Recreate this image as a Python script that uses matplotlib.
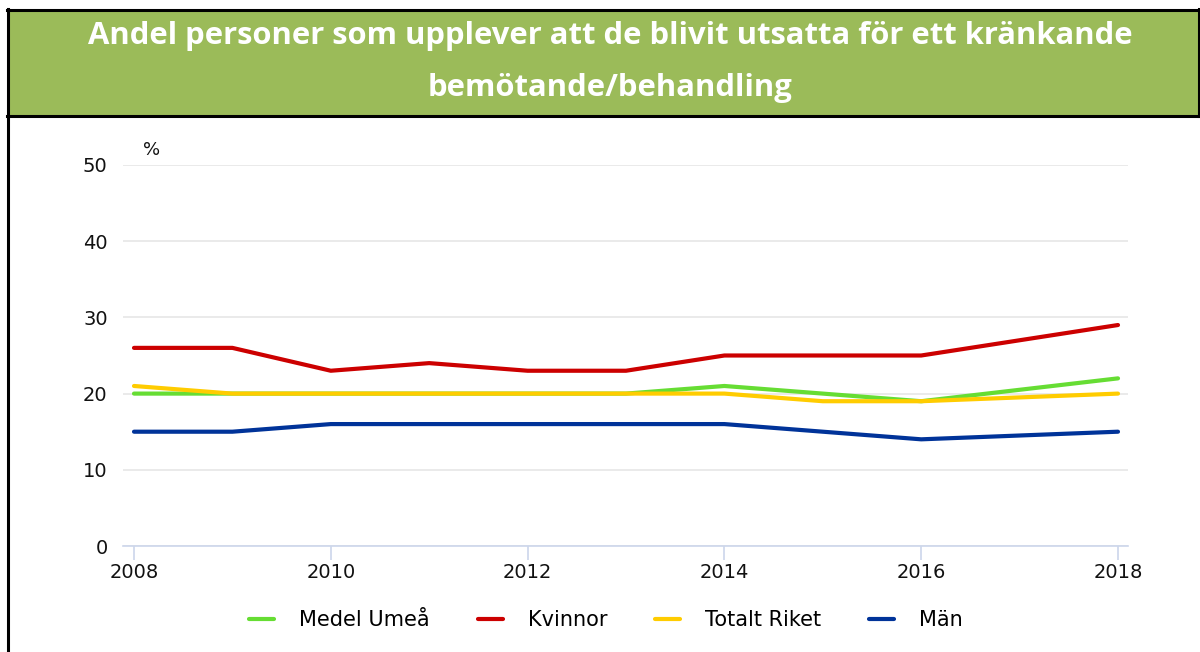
import matplotlib.pyplot as plt
from matplotlib.patches import Rectangle
from matplotlib.lines import Line2D

# data (2017 saknas, linjen går rakt från 2016 till 2018)
years = [2008, 2009, 2010, 2011, 2012, 2013, 2014, 2015, 2016, 2018]
medel_umea = [20, 20, 20, 20, 20, 20, 21, 20, 19, 22]
kvinnor = [26, 26, 23, 24, 23, 23, 25, 25, 25, 29]
totalt_riket = [21, 20, 20, 20, 20, 20, 20, 19, 19, 20]
man = [15, 15, 16, 16, 16, 16, 16, 15, 14, 15]

series = [
    ("Medel Umeå", medel_umea, "#66DD33"),
    ("Kvinnor", kvinnor, "#CC0000"),
    ("Totalt Riket", totalt_riket, "#FFCC00"),
    ("Män", man, "#003399"),
]

W, H = 1200, 652
fig = plt.figure(figsize=(W / 100, H / 100), dpi=100)

def fx(px):
    return px / W

def fy(py):
    return 1 - py / H

# titelband
fig.patches.append(Rectangle((fx(8), fy(115)), fx(1192), fy(10) - fy(115),
                             transform=fig.transFigure, facecolor="#9BBB59",
                             edgecolor="none", zorder=0))
black = "#000000"
fig.add_artist(Line2D([fx(7), 1], [fy(10), fy(10)], color=black, lw=2.2, transform=fig.transFigure))
fig.add_artist(Line2D([fx(7), 1], [fy(115.5), fy(115.5)], color=black, lw=2.2, transform=fig.transFigure))
fig.add_artist(Line2D([fx(8), fx(8)], [fy(9), 0], color=black, lw=2.2, transform=fig.transFigure))
fig.add_artist(Line2D([fx(1198.5), fx(1198.5)], [fy(9), fy(116)], color=black, lw=2.2, transform=fig.transFigure))

title_font = dict(color="white", fontweight="bold", family="Open Sans", fontsize=22.3,
                  ha="center", va="center")
fig.text(fx(610), fy(36), "Andel personer som upplever att de blivit utsatta för ett kränkande", **title_font)
fig.text(fx(610), fy(88), "bemötande/behandling", **title_font)

# diagram
ax = fig.add_axes([fx(123), fy(546), fx(1128) - fx(123), fy(165) - fy(546)])
for name, vals, col in series:
    ax.plot(years, vals, color=col, lw=3, label=name, solid_capstyle="round",
            solid_joinstyle="round", clip_on=False)

ax.set_xlim(2008 - 11 / 98.4, 2018 + 10 / 98.4)
ax.set_ylim(0, 50)
ax.set_xticks([2008, 2010, 2012, 2014, 2016, 2018])
ax.set_yticks([0, 10, 20, 30, 40, 50])
ax.grid(axis="y", color="#e6e6e6", lw=1.2)
ax.set_axisbelow(True)
for s in ["top", "right", "left"]:
    ax.spines[s].set_visible(False)
ax.spines["bottom"].set_color("#ccd6eb")
ax.spines["bottom"].set_linewidth(1.2)
ax.tick_params(axis="x", length=10, width=1.2, color="#ccd6eb", labelsize=14,
               labelcolor="#111111", pad=2)
ax.tick_params(axis="y", length=0, labelsize=14, labelcolor="#111111", pad=11)

fig.text(fx(152), fy(150), "%", fontsize=13, ha="center", va="center", color="#111111")

ax.legend(loc="center", bbox_to_anchor=((fx(606) - fx(123)) / (fx(1128) - fx(123)),
                                        (fy(620) - fy(546)) / (fy(165) - fy(546))),
          ncol=4, frameon=False, fontsize=15, handlelength=1.2, handletextpad=1.2,
          columnspacing=2.3, borderaxespad=0)

fig.savefig("out.png", dpi=100)
